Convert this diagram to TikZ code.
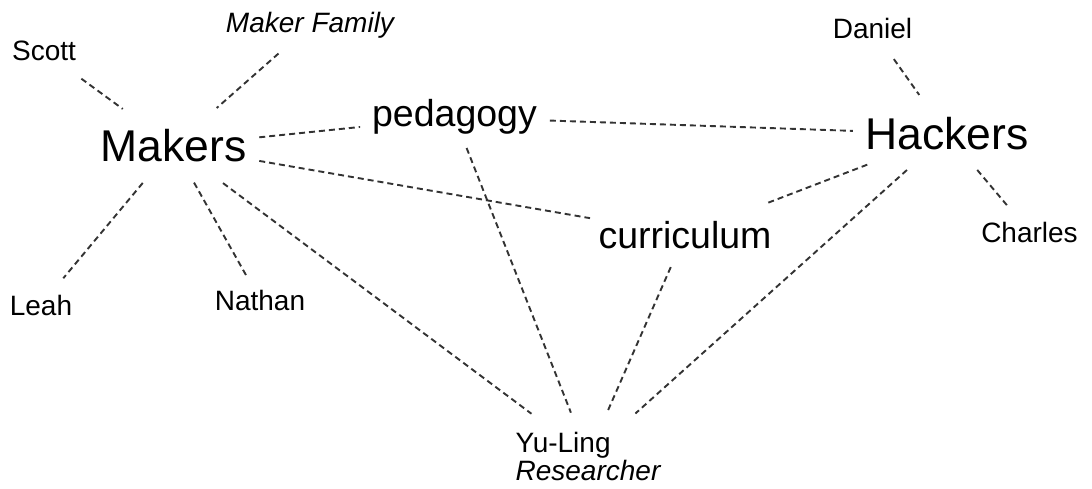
\documentclass[tikz,border=0pt]{standalone}
\usepackage{fontspec}
\setmainfont{Liberation Sans}
\begin{document}
\begin{tikzpicture}[x=1pt,y=-1pt,
  big/.style={inner sep=0pt,outer sep=0pt,font=\fontsize{44.5}{50}\selectfont},
  mid/.style={inner sep=0pt,outer sep=0pt,font=\fontsize{37.5}{42}\selectfont},
  small/.style={inner sep=0pt,outer sep=0pt,font=\fontsize{28}{28}\selectfont},
  link/.style={draw=black!80,line width=1.9pt,dash pattern=on 6pt off 4pt}]
\useasboundingbox (0,0) rectangle (1092,489);
\node[small,anchor=base] (scott) at (44,61) {Scott};
\node[small,anchor=base] (family) at (310,33) {\itshape Maker Family};
\node[big,anchor=base] (makers) at (173.5,162) {Makers};
\node[mid,anchor=base] (pedagogy) at (454.5,127) {pedagogy};
\node[big,anchor=base] (hackers) at (947,150) {Hackers};
\node[small,anchor=base] (daniel) at (872.5,39) {Daniel};
\node[small,anchor=base] (charles) at (1029.5,242) {Charles};
\node[mid,anchor=base] (curriculum) at (685,248) {curriculum};
\node[small,anchor=base] (leah) at (41,315) {Leah};
\node[small,anchor=base] (nathan) at (260,310) {Nathan};
\node[small,align=left,anchor=center] (yuling) at (588,456) {Yu-Ling\\\itshape Researcher};
\draw[link,shorten <=46.3pt,shorten >=62.9pt] (scott.center) -- (makers.center);
\draw[link,shorten <=42pt,shorten >=57.6pt] (family.center) -- (makers.center);
\draw[link,shorten <=86.2pt,shorten >=94.9pt] (makers.center) -- (pedagogy.center);
\draw[link,shorten <=95.5pt,shorten >=94.2pt] (pedagogy.center) -- (hackers.center);
\draw[link,shorten <=87pt,shorten >=96.4pt] (makers.center) -- (curriculum.center);
\draw[link,shorten <=85.4pt,shorten >=85.7pt] (hackers.center) -- (curriculum.center);
\draw[link,shorten <=36.9pt,shorten >=48pt] (daniel.center) -- (hackers.center);
\draw[link,shorten <=46.9pt,shorten >=31.7pt] (hackers.center) -- (charles.center);
\draw[link,shorten <=48pt,shorten >=34.8pt] (makers.center) -- (leah.center);
\draw[link,shorten <=41.9pt,shorten >=28.2pt] (makers.center) -- (nathan.center);
\draw[link,shorten <=61.8pt,shorten >=70.6pt] (makers.center) -- (yuling.center);
\draw[link,shorten <=33pt,shorten >=46.6pt] (pedagogy.center) -- (yuling.center);
\draw[link,shorten <=35.5pt,shorten >=47.4pt] (curriculum.center) -- (yuling.center);
\draw[link,shorten <=53.8pt,shorten >=63.7pt] (hackers.center) -- (yuling.center);
\end{tikzpicture}
\end{document}
